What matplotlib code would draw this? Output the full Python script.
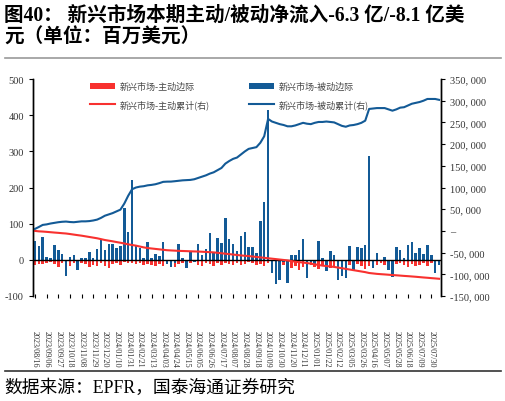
import matplotlib

matplotlib.use("Agg")
import matplotlib.pyplot as plt
import pandas as pd
from matplotlib.lines import Line2D
from matplotlib.ticker import FuncFormatter

# weekly dates, 2023/08/16 .. 2025/08/13
dates = pd.date_range("2023-08-16", periods=105, freq="7D")
labels = [d.strftime("%Y/%m/%d") for d in dates]

# passive weekly flow (left axis, US$ mn)
passive_flow = [
    53, 38, 64, 7, 5, 41, 26, 15, -44, 9, 13, -28, 4, 6, 22,
    6, 31, 58, 26, 44, 45, 33, 39, 142, 78, 222, 39, 34, 5, 50,
    6, 15, 10, 48, -12, -19, -8, 43, 4, -22, 21, -5, 45, 12, 30,
    75, 18, 61, 47, 116, 58, 43, 25, 65, 78, 35, 36, 20, 108, 159,
    414, -37, -68, -56, -5, -63, 12, 12, 27, 58, -51, -5, -14, 52, 6,
    -31, 24, 13, -55, -44, -51, 38, -28, 36, 32, 41, 287, -22, 20, -3,
    9, -28, -47, 35, 28, 6, 42, 50, 20, 34, 16, 40, 12, -37, -14,
]

# active weekly flow (left axis, US$ mn)
active_flow = [
    -14, -12, -11, -9, -7, -12, -20, -8, -10, -17, -9, -15, -8, -11, -20,
    -14, -18, -10, -16, -22, -12, -10, -14, -6, -10, -8, -12, -9, -15, -11,
    -13, -18, -12, -17, -9, -14, -19, -11, -8, -15, -10, -7, -13, -16, -9,
    -12, -18, -10, -14, -8, -11, -13, -9, -15, -12, -7, -10, -14, -11, -16,
    -9, -21, -18, -25, -14, -27, -22, -16, -28, -19, -24, -15, -20, -26, -13,
    -18, -22, -17, -12, -23, -19, -15, -21, -11, -18, -24, -16, -20, -13, -9,
    -15, -22, -18, -12, -8, -14, -19, -11, -16, -13, -10, -17, -9, -12, -15,
]

# passive cumulative (right axis, thousands)
passive_cum = [
    4.6, 9, 13.8, 15, 17, 18.5, 20, 21, 21.5, 20.5, 20, 21, 22, 22, 22.6,
    24, 26, 30, 35, 38, 41, 45, 49, 63, 81, 96, 100, 102, 103, 105,
    106, 107.5, 110, 113, 113.5, 113.6, 114.5, 115.5, 116.5, 117, 117.5, 119, 122, 125, 128,
    132, 135, 140, 145, 155, 161, 166, 169, 176, 183, 189, 191, 193, 203, 218,
    258, 252, 249, 246, 244, 241, 241, 243, 246, 249, 247, 246, 249, 251, 251,
    252, 251, 250, 246, 242, 240, 243, 244, 246, 249, 254, 281, 282, 283, 283,
    283, 280, 277, 280, 284, 285, 289, 293, 295, 297, 300, 304, 304, 304, 302,
]

# active cumulative (right axis, thousands)
active_cum = [
    0, -1, -1.5, -2.2, -3, -3.8, -4.5, -5.3, -6, -7.2, -8.5, -9.8, -11, -12.5, -14,
    -15.5, -17, -19, -21, -22.5, -24, -25.7, -27.3, -29, -31, -32.5, -34, -36, -38, -39.5,
    -40.5, -41.5, -42.5, -43.5, -44.5, -45, -45.5, -46, -46.3, -46.6, -47, -47.3, -47.6, -48, -48.5,
    -49, -49.5, -50.5, -51.5, -52.5, -53.5, -54.5, -55.5, -56.5, -57.3, -58, -59, -60, -61, -62,
    -63, -64, -65, -66, -67, -68, -69.5, -71, -72, -73, -74, -75.5, -77, -78.5, -80,
    -81, -82, -83, -84.5, -86, -87.5, -89, -90.5, -92, -93.5, -95, -97, -98, -99, -99.7,
    -100.3, -101, -101.7, -102.3, -103, -103.7, -104.3, -105, -105.7, -106.5, -107.3, -108, -108.8, -109.5, -110.3,
]

RED = "#F8312F"
BLUE = "#135A96"
CJK = ["Liberation Serif", "Noto Sans CJK SC"]

plt.rcParams["font.family"] = ["Liberation Serif", "Noto Sans CJK SC"]

fig = plt.figure(figsize=(5.06, 4.02), dpi=100)
ax = fig.add_axes([33 / 506, 1 - 297 / 402, 408 / 506, 217 / 402])
ax2 = ax.twinx()

x = list(range(len(labels)))
b1 = ax.bar(x, active_flow, width=0.65, color=RED, label="新兴市场-主动边际", zorder=2)
b2 = ax.bar(x, passive_flow, width=0.65, color=BLUE, label="新兴市场-被动边际", zorder=3)
l1, = ax2.plot(x, [v * 1000 for v in active_cum], color=RED, lw=1.5, label="新兴市场-主动累计(右)")
l2, = ax2.plot(x, [v * 1000 for v in passive_cum], color=BLUE, lw=1.5, label="新兴市场-被动累计(右)")

ax.set_ylim(-100, 500)
ax.set_yticks(range(-100, 501, 100))
ax2.set_ylim(-150000, 350000)
ax2.set_yticks(range(-150000, 350001, 50000))
ax.set_xlim(-0.5, len(labels) - 0.5)

ax.axhline(0, color="black", lw=1.0, zorder=4)
for a in (ax, ax2):
    a.spines["top"].set_visible(False)
    a.spines["bottom"].set_visible(False)
    a.spines["left"].set_linewidth(1.0)
    a.spines["right"].set_linewidth(1.0)

ax.set_xticks(x[::3])
ax.set_xticklabels(labels[::3], rotation=270, fontsize=5.9, color="#333333")
ax.tick_params(axis="x", length=3, direction="inout", pad=23)
ax.tick_params(axis="y", labelsize=7.5, length=3, labelcolor="#333333")
ax2.tick_params(axis="y", labelsize=7.5, length=3, labelcolor="#333333")


def fmt_right(v, pos):
    if v == 0:
        return "–"
    return f"{int(v):,}".replace(",", ", ")


ax2.yaxis.set_major_formatter(FuncFormatter(fmt_right))
ax.yaxis.set_major_formatter(FuncFormatter(lambda v, p: f"{int(v)}"))

leg = ax2.legend(
    [b1, l1, b2, l2],
    [b1.get_label(), l1.get_label(), b2.get_label(), l2.get_label()],
    ncol=2, loc="upper left", bbox_to_anchor=(0.12, 1.025), frameon=False,
    prop={"family": ["Noto Sans CJK SC"], "size": 6.5}, handlelength=2.8,
    handletextpad=0.5, columnspacing=4.3, labelspacing=0.95,
)
for t in leg.get_texts():
    t.set_color("#444444")

fig.text(0.008, 0.962, "图40： 新兴市场本期主动/被动净流入-6.3 亿/-8.1 亿美",
         family=CJK, weight="bold", fontsize=14.1, va="center")
fig.text(0.008, 0.905, "元（单位：百万美元）",
         family=CJK, weight="bold", fontsize=14.1, va="center")
fig.add_artist(Line2D([0.01, 0.99], [1 - 59 / 402, 1 - 59 / 402], color="#999999", lw=1.2))
fig.add_artist(Line2D([0.01, 0.99], [1 - 372 / 402, 1 - 372 / 402], color="#333333", lw=1.2))
fig.text(0.008, 1 - 388 / 402, "数据来源：EPFR，国泰海通证券研究",
         family=CJK, fontsize=12.8, va="center")

fig.savefig("out.png", dpi=100)
